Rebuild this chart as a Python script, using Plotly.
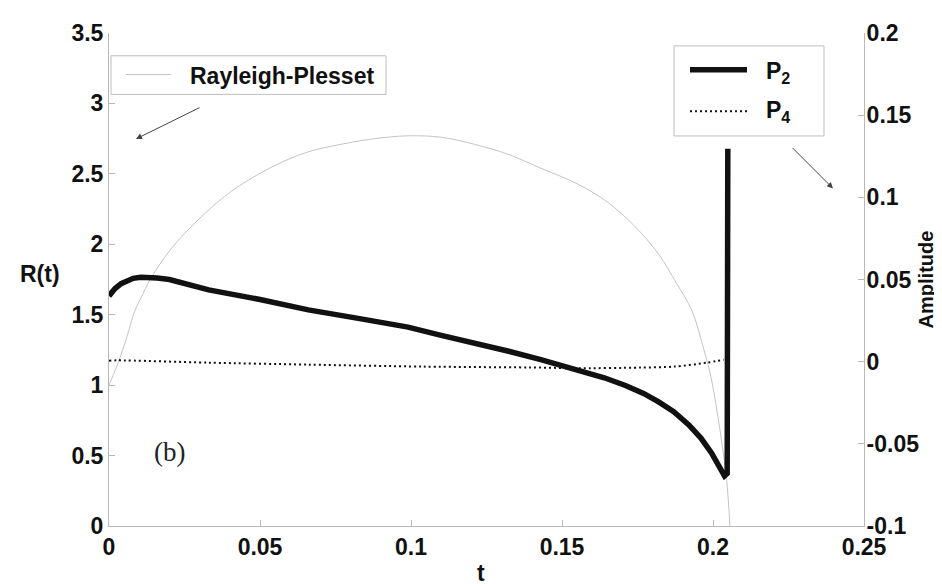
import plotly.graph_objects as go

# ---------------- data ----------------
t_rp = [0.0, 0.0025, 0.0053, 0.0086, 0.0106, 0.0139, 0.0218, 0.036, 0.045, 0.055, 0.065,
        0.0768, 0.088, 0.099, 0.11, 0.121, 0.132, 0.143, 0.155, 0.165, 0.174, 0.182,
        0.188, 0.193, 0.197, 0.1993, 0.2026, 0.2045, 0.2056]
r_rp = [1.0, 1.13, 1.30, 1.53, 1.62, 1.76, 2.00, 2.30, 2.44, 2.56, 2.65,
        2.71, 2.75, 2.77, 2.76, 2.71, 2.64, 2.54, 2.43, 2.30, 2.13, 1.93,
        1.72, 1.53, 1.25, 1.06, 0.64, 0.33, 0.0]

t_p2 = [0.0, 0.002, 0.004, 0.006, 0.008, 0.0105, 0.013, 0.016, 0.02, 0.033, 0.05, 0.066,
        0.083, 0.099, 0.11, 0.121, 0.132, 0.143, 0.15, 0.157, 0.164, 0.171, 0.177, 0.182,
        0.187, 0.192, 0.196, 0.1995, 0.2025, 0.2038, 0.2047, 0.2049]
a_p2 = [0.040, 0.0445, 0.0475, 0.0495, 0.0507, 0.0513, 0.0513, 0.0509, 0.0500, 0.0437, 0.0378,
        0.0315, 0.0262, 0.021, 0.016, 0.0114, 0.0065, 0.0012, -0.0022, -0.0058, -0.0098,
        -0.0145, -0.0193, -0.0245, -0.0305, -0.0385, -0.0465, -0.0555, -0.066, -0.0695,
        -0.068, 0.1295]

t_p4 = [0.0, 0.003, 0.033, 0.066, 0.104, 0.143, 0.154, 0.176, 0.187, 0.198, 0.2036]
a_p4 = [0.0006, 0.0008, -0.0006, -0.0018, -0.003, -0.0036, -0.004, -0.0036, -0.003, -0.0006, 0.0012]

x_ticks = [0, 0.05, 0.1, 0.15, 0.2, 0.25]
x_tick_labels = ["0", "0.05", "0.1", "0.15", "0.2", "0.25"]
y_ticks = [0, 0.5, 1, 1.5, 2, 2.5, 3, 3.5]
y_tick_labels = ["0", "0.5", "1", "1.5", "2", "2.5", "3", "3.5"]
y2_ticks = [-0.1, -0.05, 0, 0.05, 0.1, 0.15, 0.2]
y2_tick_labels = ["-0.1", "-0.05", "0", "0.05", "0.1", "0.15", "0.2"]

names = ["Rayleigh-Plesset", "P<sub>2</sub>", "P<sub>4</sub>"]

# ---------------- layout geometry ----------------
W, H = 942, 584
ML, MR, MT, MB = 101, 86, 20, 66
PW, PH = W - ML - MR, H - MT - MB


def px(x, y):
    """pixel -> paper coords"""
    return (x - ML) / PW, (H - MB - y) / PH


SANS = "Liberation Sans, Arial, Helvetica, sans-serif"
SERIF = "Liberation Serif, Times New Roman, serif"
FS = 23
AXC = "#b8b8b8"

RP_STYLE = dict(color="#c4c4c4", width=1)
P2_STYLE = dict(color="#111111", width=5.5)
P4_STYLE = dict(color="#111111", width=2, dash="2px,3px")

fig = go.Figure()
fig.add_trace(go.Scatter(x=t_rp, y=r_rp, mode="lines", name=names[0],
                         line=dict(shape="spline", smoothing=1.0, **RP_STYLE), showlegend=False))
fig.add_trace(go.Scatter(x=t_p2, y=a_p2, mode="lines", name=names[1], yaxis="y2",
                         line=dict(shape="linear", **P2_STYLE), showlegend=False))
fig.add_trace(go.Scatter(x=t_p4, y=a_p4, mode="lines", name=names[2], yaxis="y2",
                         line=dict(shape="spline", smoothing=0.8, **P4_STYLE), showlegend=False))

tfont = dict(family=SANS, size=FS, color="#111", weight=700)
axis_common = dict(showgrid=False, zeroline=False, showline=True, linecolor=AXC, linewidth=1,
                   ticks="inside", ticklen=6, tickcolor=AXC, tickfont=tfont)

fig.update_layout(
    width=W, height=H,
    margin=dict(l=ML, r=MR, t=MT, b=MB, pad=0),
    paper_bgcolor="white", plot_bgcolor="white",
    showlegend=False,
    xaxis=dict(range=[0, 0.25], tickvals=x_ticks, ticktext=x_tick_labels, **axis_common),
    yaxis=dict(range=[0, 3.5], tickvals=y_ticks, ticktext=y_tick_labels, **axis_common),
    yaxis2=dict(range=[-0.1, 0.2], tickvals=y2_ticks, ticktext=y2_tick_labels, overlaying="y",
                side="right", ticklabelstandoff=-3,
                title=dict(text="Amplitude", standoff=0,
                           font=dict(family=SANS, size=20, color="#111", weight=700)),
                **axis_common),
)

shapes = []
annotations = []

# ----- left legend (manual) -----
bx0, by0 = px(103, 43)
bx1, by1 = px(378, 82)
shapes.append(dict(type="rect", xref="paper", yref="paper", x0=bx0, y0=by1, x1=bx1, y1=by0,
                   line=dict(color="#bdbdbd", width=1), fillcolor="rgba(0,0,0,0)"))
lx0, ly = px(118, 62)
lx1, _ = px(163, 62)
shapes.append(dict(type="line", xref="paper", yref="paper", x0=lx0, y0=ly, x1=lx1, y1=ly,
                   line=RP_STYLE))
tx, ty = px(180, 63)
annotations.append(dict(xref="paper", yref="paper", x=tx, y=ty, xanchor="left", yanchor="middle",
                        text=names[0], showarrow=False, font=tfont))

# ----- right legend (manual) -----
bx0, by0 = px(666, 33)
bx1, by1 = px(816, 124)
shapes.append(dict(type="rect", xref="paper", yref="paper", x0=bx0, y0=by1, x1=bx1, y1=by0,
                   line=dict(color="#bdbdbd", width=1), fillcolor="rgba(0,0,0,0)"))
for yy, style, nm, ty_px in [(57, P2_STYLE, names[1], 60), (99, P4_STYLE, names[2], 99)]:
    lx0, ly = px(682, yy)
    lx1, _ = px(739, yy)
    shapes.append(dict(type="line", xref="paper", yref="paper", x0=lx0, y0=ly, x1=lx1, y1=ly,
                       line=style))
    tx, ty = px(756, ty_px)
    annotations.append(dict(xref="paper", yref="paper", x=tx, y=ty, xanchor="left", yanchor="middle",
                            text=nm, showarrow=False, font=tfont))

# ----- arrows pointing to axes -----
annotations.append(dict(x=(128 - ML) / PW * 0.25, y=(H - MB - 127) / PH * 3.5, xref="x", yref="y",
                        ax=65, ay=-32, axref="pixel", ayref="pixel", text="", showarrow=True,
                        arrowhead=2, arrowsize=1.2, arrowwidth=1, arrowcolor="#444", standoff=0))
annotations.append(dict(x=(825 - ML) / PW * 0.25, y=(H - MB - 177) / PH * 3.5, xref="x", yref="y",
                        ax=-42, ay=-42, axref="pixel", ayref="pixel", text="", showarrow=True,
                        arrowhead=2, arrowsize=1.2, arrowwidth=1, arrowcolor="#444", standoff=0))

# ----- axis titles -----
tx, ty = px(32, 263)
annotations.append(dict(xref="paper", yref="paper", x=tx, y=ty, text="R(t)", showarrow=False,
                        xanchor="center", yanchor="middle", font=tfont))
tx, ty = px(473, 565)
annotations.append(dict(xref="paper", yref="paper", x=tx, y=ty, text="t", showarrow=False,
                        xanchor="center", yanchor="middle", font=tfont))

# ----- panel label -----
tx, ty = px(161, 443)
annotations.append(dict(xref="paper", yref="paper", x=tx, y=ty, text="(b)", showarrow=False,
                        xanchor="center", yanchor="middle",
                        font=dict(family=SERIF, size=27, color="#222")))

# ----- caption (cut by the page edge) -----
tx, ty = px(-4, 574)
annotations.append(dict(xref="paper", yref="paper", x=tx, y=ty, xanchor="left", yanchor="top",
                        text="<b>Figure III.23</b>: Shows mode shape amplitudes of a cavitation bubble in the",
                        showarrow=False, font=dict(family=SERIF, size=24, color="#111")))

fig.update_layout(shapes=shapes, annotations=annotations)
fig.write_html("out.html")
